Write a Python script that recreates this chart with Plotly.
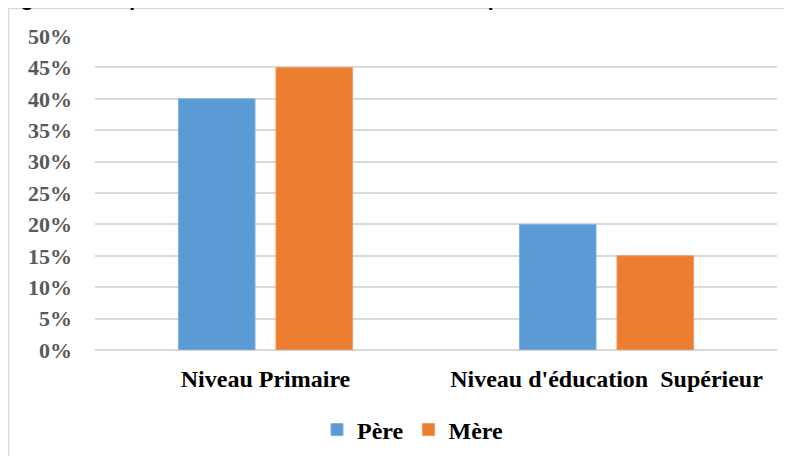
import plotly.graph_objects as go

categories = ["Niveau Primaire", "Niveau d'éducation  Supérieur"]
pere = [0.40, 0.20]
mere = [0.45, 0.15]
tick_vals = [0, 0.05, 0.10, 0.15, 0.20, 0.25, 0.30, 0.35, 0.40, 0.45, 0.50]
tick_text = ["0%", "5%", "10%", "15%", "20%", "25%", "30%", "35%", "40%", "45%", "50%"]
title_text = "Figure 3 : Répartition du niveau d'éducation des pères et des mères"

fig = go.Figure()
fig.add_trace(go.Bar(name="Père", x=categories, y=pere, marker=dict(color="#5B9BD5", line=dict(color="#7FB1E0", width=1))))
fig.add_trace(go.Bar(name="Mère", x=categories, y=mere, marker=dict(color="#ED7D31", line=dict(color="#F29A5E", width=1))))

# figure coordinates (page is offset by 8px body margin)
L, R, T, B = 87, 23, 28, 114
W, H = 792, 456
pw, ph = W - L - R, H - T - B

def px2x(px):
    return (px - L) / pw

def py2y(py):
    return (H - B - py) / ph

fig.update_layout(
    width=W, height=H,
    margin=dict(l=L, r=R, t=T, b=B, autoexpand=False),
    paper_bgcolor="white", plot_bgcolor="white",
    barmode="group", bargap=0.428, bargroupgap=0.215,
    font=dict(family="Liberation Serif", color="black"),
    showlegend=True,
    legend=dict(orientation="h", x=px2x(309), xanchor="left", y=py2y(422), yanchor="middle",
                font=dict(size=24, family="Liberation Serif", color="black", weight="bold"),
                itemwidth=30, tracegroupgap=0),
    xaxis=dict(showgrid=False, showline=False, ticks="", automargin=False, ticklabelstandoff=12,
               tickfont=dict(size=24, family="Liberation Serif", color="black", weight="bold")),
    yaxis=dict(range=[0, 0.5], tickvals=tick_vals, ticktext=tick_text, automargin=False,
               showgrid=True, gridcolor="#D9D9D9", gridwidth=1.5,
               zeroline=True, zerolinecolor="#D9D9D9", zerolinewidth=1.5,
               showline=False, ticks="", ticklabelstandoff=22,
               tickfont=dict(size=22, family="Liberation Serif", color="#595959", weight="bold")),
    shapes=[dict(type="rect", xref="paper", yref="paper",
                 x0=px2x(0.5), x1=px2x(810), y0=py2y(470), y1=py2y(0.5),
                 line=dict(color="#D9D9D9", width=1.5), fillcolor="rgba(0,0,0,0)", layer="below")],
    annotations=[dict(text=title_text, xref="paper", yref="paper",
                      x=px2x(-8), y=py2y(4), xanchor="left", yanchor="bottom", showarrow=False,
                      font=dict(family="Liberation Sans", size=21, color="black", weight="bold"))],
)

fig.write_html("out.html")
